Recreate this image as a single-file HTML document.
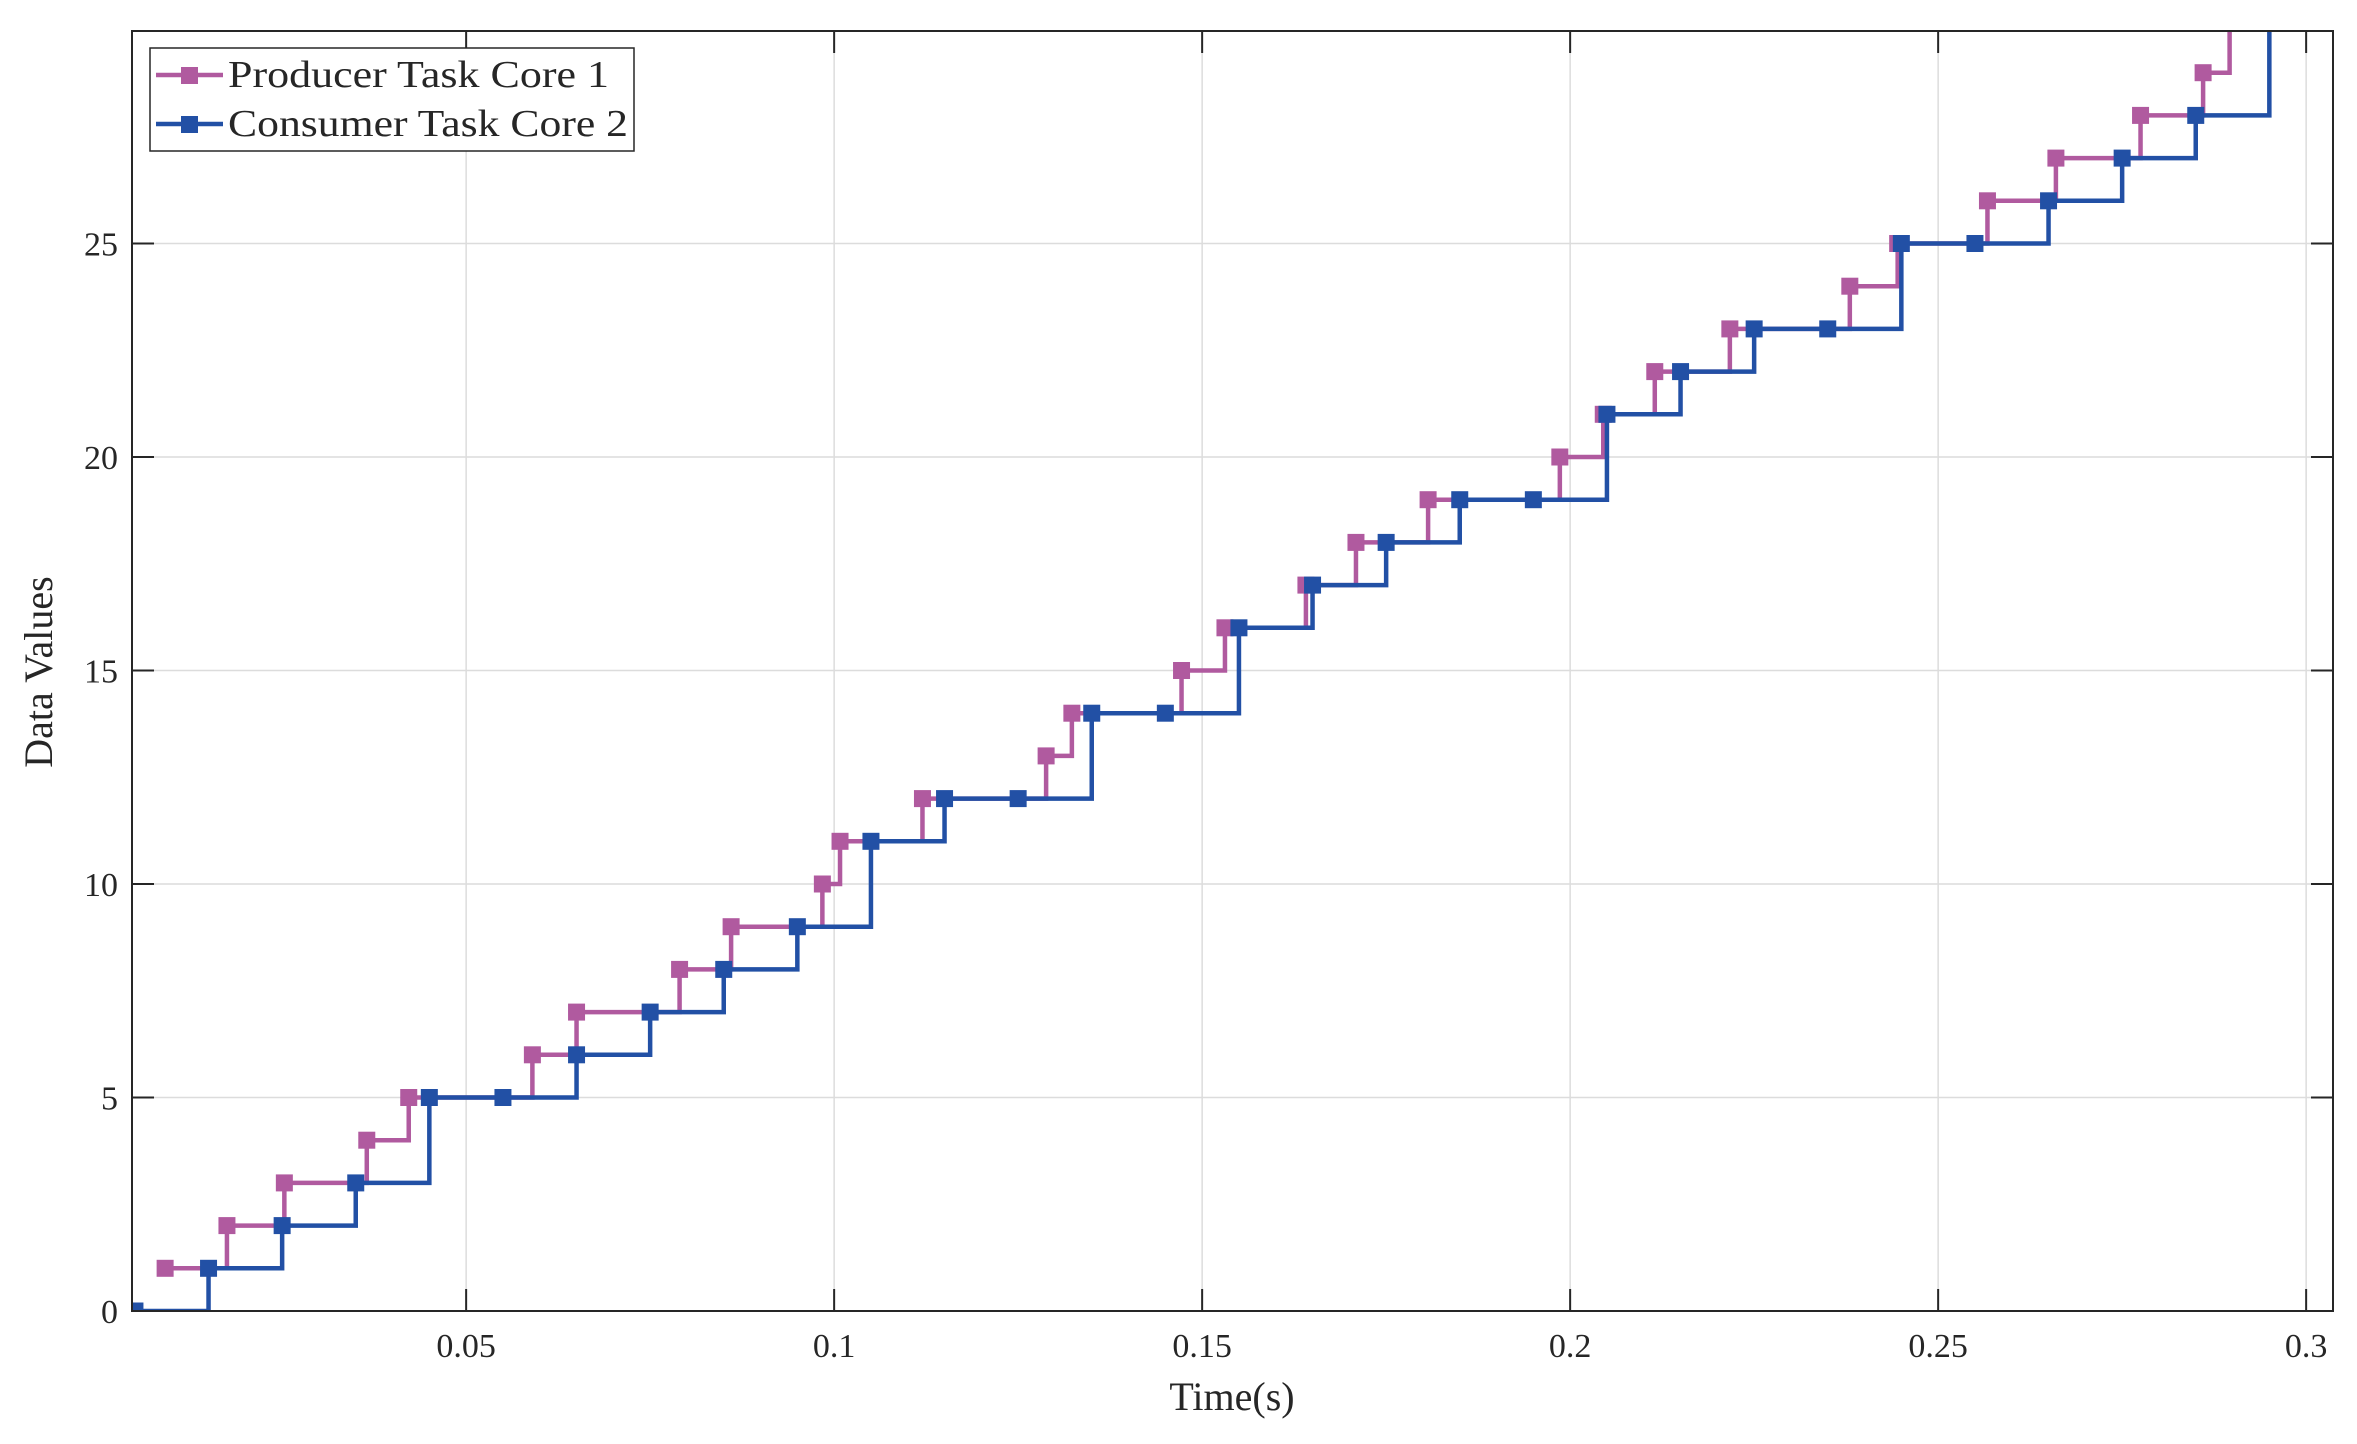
<!DOCTYPE html>
<html><head><meta charset="utf-8"><style>
html,body{margin:0;padding:0;background:#fff;}
svg{display:block;}
text{font-family:"Liberation Serif","DejaVu Serif",serif;fill:#262626;}
</style></head><body>
<svg id="s" width="2357" height="1444" xmlns="http://www.w3.org/2000/svg">
<defs><clipPath id="c"><rect x="132" y="31" width="2201" height="1280"/></clipPath></defs>
<g id="grid"></g>
<g id="data" clip-path="url(#c)"></g>
<rect x="132" y="31" width="2201" height="1280" fill="none" stroke="#262626" stroke-width="2"/>
<g id="ticks"></g>
<text x="1232" y="1410" font-size="40" text-anchor="middle">Time(s)</text>
<text transform="translate(52,672) rotate(-90)" font-size="40" text-anchor="middle">Data Values</text>
<rect x="150" y="48" width="484" height="103" fill="#fff" stroke="#262626" stroke-width="1.5"/>
<line x1="156" y1="75" x2="223" y2="75" stroke="#b05a9f" stroke-width="4.5"/>
<rect x="181" y="67" width="17" height="17" fill="#b05a9f"/>
<line x1="156" y1="124" x2="223" y2="124" stroke="#2250a5" stroke-width="4.5"/>
<rect x="181" y="116" width="17" height="17" fill="#2250a5"/>
<text x="228" y="87" font-size="38" textLength="381" lengthAdjust="spacingAndGlyphs">Producer Task Core 1</text>
<text x="228" y="136" font-size="38" textLength="400" lengthAdjust="spacingAndGlyphs">Consumer Task Core 2</text>
</svg>
<script>
var NS="http://www.w3.org/2000/svg";
function X(t){return 132+(t-0.0046)*7360;}
function Y(v){return 1311-42.7*v;}
function el(p,n,a){var e=document.createElementNS(NS,n);for(var k in a)e.setAttribute(k,a[k]);p.appendChild(e);return e;}
var g=document.getElementById('grid'),tk=document.getElementById('ticks'),d=document.getElementById('data');
[0.05,0.1,0.15,0.2,0.25,0.3].forEach(function(t){var x=X(t);
 el(g,'line',{x1:x,y1:31,x2:x,y2:1311,stroke:'#dcdcdc','stroke-width':1.5});
 el(tk,'line',{x1:x,y1:1311,x2:x,y2:1289,stroke:'#262626','stroke-width':2});
 el(tk,'line',{x1:x,y1:31,x2:x,y2:53,stroke:'#262626','stroke-width':2});
 var tx=el(tk,'text',{x:x,y:1357,'font-size':34,'text-anchor':'middle'});tx.textContent=String(t);});
[0,5,10,15,20,25].forEach(function(v){var y=Y(v);
 if(v>0)el(g,'line',{x1:132,y1:y,x2:2333,y2:y,stroke:'#dcdcdc','stroke-width':1.5});
 el(tk,'line',{x1:132,y1:y,x2:154,y2:y,stroke:'#262626','stroke-width':2});
 el(tk,'line',{x1:2333,y1:y,x2:2311,y2:y,stroke:'#262626','stroke-width':2});
 var tx=el(tk,'text',{x:118,y:y+12,'font-size':34,'text-anchor':'end'});tx.textContent=String(v);});
function stairs(pts,col,endT){
 var s='M'+X(pts[0][0])+' '+Y(pts[0][1]);
 for(var i=1;i<pts.length;i++){s+=' H'+X(pts[i][0])+' V'+Y(pts[i][1]);}
 s+=' H'+X(endT);
 el(d,'path',{d:s,fill:'none',stroke:col,'stroke-width':4.5,'stroke-linejoin':'miter'});
 pts.forEach(function(p){el(d,'rect',{x:X(p[0])-8.5,y:Y(p[1])-8.5,width:17,height:17,fill:col});});
}
var pt=[0.0091,0.0175,0.0253,0.0365,0.0422,0.059,0.065,0.079,0.086,0.0984,0.1008,0.112,0.1288,0.1323,0.1472,0.1531,0.1641,0.1709,0.1807,0.1986,0.2045,0.2115,0.2217,0.238,0.2445,0.2567,0.266,0.2775,0.286,0.2896];
var P=[];pt.forEach(function(t,i){P.push([t,i+1]);});
P[P.length-1][1]=31;
stairs(P,'#b05a9f',0.31);
var bv=[0,1,2,3,5,5,6,7,8,9,11,12,12,14,14,16,17,18,19,19,21,22,23,23,25,25,26,27,28,31];
var B=[];bv.forEach(function(v,i){B.push([0.005+0.01*i,v]);});
stairs(B,'#2250a5',0.31);
</script>
</body></html>
